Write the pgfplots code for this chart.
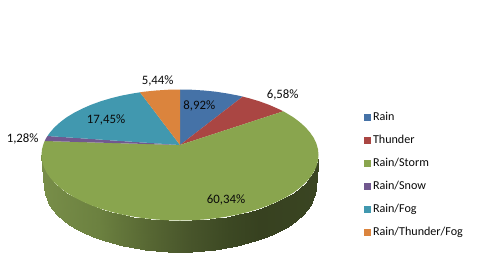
\documentclass[border=0pt]{standalone}
\usepackage{pgfplots}
\pgfplotsset{compat=1.18}
\usepackage{fontspec}
\setmainfont{Carlito}
\definecolor{cRain}{RGB}{69,114,167}
\definecolor{cThunder}{RGB}{170,70,67}
\definecolor{cStorm}{RGB}{137,165,78}
\definecolor{cSnow}{RGB}{113,88,143}
\definecolor{cFog}{RGB}{65,152,175}
\definecolor{cOrange}{RGB}{219,132,61}
\definecolor{cText}{RGB}{10,10,10}
\begin{document}
\begin{tikzpicture}
\begin{axis}[
  width=482pt, height=274pt, scale only axis,
  xmin=0, xmax=482, ymin=0, ymax=274, y dir=reverse,
  hide axis, clip=false,
  colormap={side}{rgb255(44)=(120,142,73); rgb255(100)=(108,129,64); rgb255(150)=(87,103,51); rgb255(190)=(72,85,43); rgb255(230)=(60,72,35); rgb255(260)=(55,65,32); rgb255(318)=(58,69,34)},
  legend style={at={(axis cs:364,112)}, anchor=north west, draw=none, fill=none,
    row sep=13pt, inner sep=0pt, outer sep=0pt,
    nodes={text height=8pt, text depth=2pt, inner ysep=0pt, inner xsep=2pt, font=\fontsize{12.1}{14}\selectfont, text=cText}},
  legend cell align=left,
  legend image code/.code={\fill[#1] (0pt,-3.5pt) rectangle (7pt,3.5pt);},
]
\addplot[forget plot, draw=none, fill=white] coordinates {(0,0)(482,0)(482,274)(0,274)};
% side wall of the pie
\addplot[forget plot, surf, shader=interp, mesh/rows=2, point meta=x, point meta min=41.5, point meta max=318.5] table[row sep=\\] {
x y\\
41.5 155\\ 42 160.7\\ 43.6 166.4\\ 46.2 172\\ 49.9 177.4\\ 54.5 182.7\\ 60.1 187.75\\ 66.5 192.6\\ 73.9 197.1\\ 82.1 201.3\\ 91 205.2\\ 100.6 208.7\\ 110.75 211.7\\ 121.5 214.4\\ 132.6 216.5\\ 144.2 218.3\\ 156 219.5\\ 167.9 220.25\\ 180 220.5\\
192.1 220.25\\ 204 219.5\\ 215.8 218.3\\ 227.4 216.5\\ 238.5 214.4\\ 249.25 211.7\\ 259.4 208.7\\ 269 205.2\\ 277.9 201.3\\ 286.1 197.1\\ 293.5 192.6\\ 299.9 187.75\\ 305.5 182.7\\ 310.1 177.4\\ 313.8 172\\ 316.4 166.4\\ 318 160.7\\ 318.5 155\\
44.5 188\\ 45 193.6\\ 46.6 199.1\\ 49.1 204.6\\ 52.7 209.9\\ 57.2 215\\ 62.7 220\\ 69 224.7\\ 76.2 229.1\\ 84.2 233.3\\ 92.9 237\\ 102.3 240.4\\ 112.25 243.4\\ 122.7 246\\ 133.7 248.1\\ 144.9 249.8\\ 156.5 251\\ 168.2 251.8\\ 180 252\\
191.8 251.8\\ 203.5 251\\ 215.1 249.8\\ 226.3 248.1\\ 237.3 246\\ 247.75 243.4\\ 257.7 240.4\\ 267.1 237\\ 275.8 233.3\\ 283.8 229.1\\ 291 224.7\\ 297.3 220\\ 302.8 215\\ 307.3 209.9\\ 310.9 204.6\\ 313.4 199.1\\ 315 193.6\\ 315.5 188\\
};
% top faces
\addplot[draw=none, fill=cRain] coordinates {(180,145)(180,89.5)(192.1,89.75)(204,90.5)(215.8,91.7)(227.4,93.5)(238.5,95.6)(242.7,96.6)};
\addlegendentry{Rain}
\addplot[draw=none, fill=cThunder] coordinates {(180,145)(242.7,96.6)(249.25,98.3)(259.4,101.3)(269,104.8)(277.9,108.7)(283.3,111.3)};
\addlegendentry{Thunder}
\addplot[draw=none, fill=cStorm] coordinates {(180,145)(283.3,111.3)(286.1,112.9)(293.5,117.4)(299.9,122.25)(305.5,127.3)(310.1,132.6)(313.8,138)(316.4,143.6)(318,149.3)(318.5,155)(318,160.7)(316.4,166.4)(313.8,172)(310.1,177.4)(305.5,182.7)(299.9,187.75)(293.5,192.6)(286.1,197.1)(277.9,201.3)(269,205.2)(259.4,208.7)(249.25,211.7)(238.5,214.4)(227.4,216.5)(215.8,218.3)(204,219.5)(192.1,220.25)(180,220.5)(167.9,220.25)(156,219.5)(144.2,218.3)(132.6,216.5)(121.5,214.4)(110.75,211.7)(100.6,208.7)(91,205.2)(82.1,201.3)(73.9,197.1)(66.5,192.6)(60.1,187.75)(54.5,182.7)(49.9,177.4)(46.2,172)(43.6,166.4)(42,160.7)(41.5,155)(42,149.3)(43.6,143.6)(44.7,141)};
\addlegendentry{Rain/Storm}
\addplot[draw=none, fill=cSnow] coordinates {(180,145)(44.7,141)(46.2,138)(47.5,136)};
\addlegendentry{Rain/Snow}
\addplot[draw=none, fill=cFog] coordinates {(180,145)(47.5,136)(49.9,132.6)(54.5,127.3)(60.1,122.25)(66.5,117.4)(73.9,112.9)(82.1,108.7)(91,104.8)(100.6,101.3)(110.75,98.3)(121.5,95.6)(132.6,93.5)(140,92.3)};
\addlegendentry{Rain/Fog}
\addplot[draw=none, fill=cOrange] coordinates {(180,145)(140,92.3)(144.2,91.7)(156,90.5)(167.9,89.75)(180,89.5)};
\addlegendentry{Rain/Thunder/Fog}
% data labels
\begin{scope}[every node/.style={font=\fontsize{12.8}{14}\selectfont, text=cText, inner sep=0pt}]
\node at (axis cs:199.3,106) {8,92\%};
\node at (axis cs:282.7,95) {6,58\%};
\node at (axis cs:226,200) {60,34\%};
\node at (axis cs:106,120) {17,45\%};
\node at (axis cs:22.7,139) {1,28\%};
\node at (axis cs:157.7,81) {5,44\%};
\end{scope}
\end{axis}
\end{tikzpicture}
\end{document}
